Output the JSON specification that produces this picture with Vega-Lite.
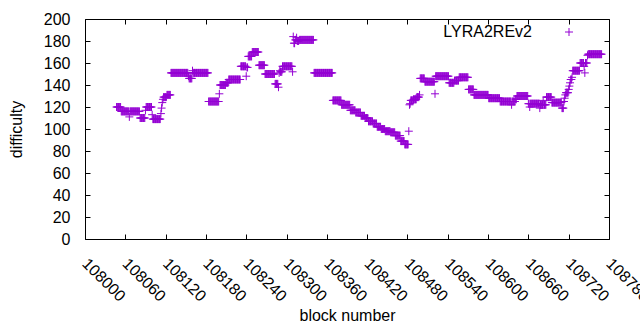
{
"$schema":"https://vega.github.io/schema/vega-lite/v6.json",
"width":524,"height":220,
"autosize":{"type":"none"},
"padding":{"left":85,"top":19,"right":31,"bottom":91},
"background":"white",
"config":{"font":"Liberation Sans","view":{"stroke":"#000","strokeWidth":1},
"axis":{"grid":false,"domain":false,"labelFont":"Liberation Sans","labelFontSize":16,"labelColor":"#000","titleFont":"Liberation Sans","titleFontSize":16,"titleFontWeight":"normal","titleColor":"#000","tickColor":"#000","tickSize":-5,"tickWidth":1}},
"data":{"values":[
{"b":108047,"d":120},{"b":108048,"d":120},{"b":108049,"d":120},{"b":108050,"d":120},{"b":108051,"d":120},{"b":108052,"d":120},{"b":108053,"d":120},
{"b":108054,"d":116},{"b":108055,"d":116},{"b":108056,"d":116},{"b":108057,"d":116},{"b":108058,"d":116},{"b":108059,"d":116},{"b":108060,"d":116},{"b":108061,"d":116},{"b":108062,"d":116},{"b":108063,"d":116},{"b":108064,"d":116},{"b":108065,"d":116},
{"b":108066,"d":111},
{"b":108067,"d":116},{"b":108068,"d":116},{"b":108069,"d":116},{"b":108070,"d":116},{"b":108071,"d":116},{"b":108072,"d":116},{"b":108073,"d":116},{"b":108074,"d":116},{"b":108075,"d":116},{"b":108076,"d":116},{"b":108077,"d":116},{"b":108078,"d":116},{"b":108079,"d":116},{"b":108080,"d":116},{"b":108081,"d":116},
{"b":108082,"d":110},{"b":108083,"d":110},{"b":108084,"d":110},{"b":108085,"d":110},{"b":108086,"d":110},{"b":108087,"d":110},{"b":108088,"d":110},{"b":108089,"d":110},
{"b":108090,"d":117},
{"b":108091,"d":120},{"b":108092,"d":120},{"b":108093,"d":120},{"b":108094,"d":120},{"b":108095,"d":120},{"b":108096,"d":120},{"b":108097,"d":120},{"b":108098,"d":120},{"b":108099,"d":120},
{"b":108100,"d":113},
{"b":108101,"d":109},{"b":108102,"d":109},{"b":108103,"d":109},{"b":108104,"d":109},{"b":108105,"d":109},{"b":108106,"d":109},{"b":108107,"d":109},{"b":108108,"d":109},{"b":108109,"d":109},{"b":108110,"d":109},{"b":108111,"d":109},{"b":108112,"d":109},
{"b":108113,"d":114},{"b":108114,"d":119},{"b":108115,"d":124},{"b":108116,"d":127},
{"b":108117,"d":129},{"b":108118,"d":129},{"b":108119,"d":129},{"b":108120,"d":129},{"b":108121,"d":129},
{"b":108122,"d":131},{"b":108123,"d":131},{"b":108124,"d":131},{"b":108125,"d":131},{"b":108126,"d":131},{"b":108127,"d":131},
{"b":108128,"d":151},{"b":108129,"d":151},{"b":108130,"d":151},{"b":108131,"d":151},{"b":108132,"d":151},{"b":108133,"d":151},{"b":108134,"d":151},{"b":108135,"d":151},{"b":108136,"d":151},{"b":108137,"d":151},{"b":108138,"d":151},{"b":108139,"d":151},{"b":108140,"d":151},{"b":108141,"d":151},{"b":108142,"d":151},{"b":108143,"d":151},{"b":108144,"d":151},{"b":108145,"d":151},{"b":108146,"d":151},{"b":108147,"d":151},{"b":108148,"d":151},{"b":108149,"d":151},{"b":108150,"d":151},{"b":108151,"d":151},{"b":108152,"d":151},{"b":108153,"d":151},
{"b":108154,"d":148},
{"b":108155,"d":146},{"b":108156,"d":146},{"b":108157,"d":146},{"b":108158,"d":146},{"b":108159,"d":146},
{"b":108160,"d":153},
{"b":108161,"d":151},{"b":108162,"d":151},{"b":108163,"d":151},{"b":108164,"d":151},{"b":108165,"d":151},{"b":108166,"d":151},{"b":108167,"d":151},{"b":108168,"d":151},{"b":108169,"d":151},{"b":108170,"d":151},{"b":108171,"d":151},{"b":108172,"d":151},{"b":108173,"d":151},{"b":108174,"d":151},{"b":108175,"d":151},{"b":108176,"d":151},{"b":108177,"d":151},{"b":108178,"d":151},{"b":108179,"d":151},{"b":108180,"d":151},{"b":108181,"d":151},{"b":108182,"d":151},{"b":108183,"d":151},
{"b":108184,"d":125},{"b":108185,"d":125},{"b":108186,"d":125},{"b":108187,"d":125},{"b":108188,"d":125},{"b":108189,"d":125},{"b":108190,"d":125},{"b":108191,"d":125},{"b":108192,"d":125},{"b":108193,"d":125},{"b":108194,"d":125},{"b":108195,"d":125},{"b":108196,"d":125},{"b":108197,"d":125},{"b":108198,"d":125},{"b":108199,"d":125},
{"b":108200,"d":132},
{"b":108201,"d":140},{"b":108202,"d":140},{"b":108203,"d":140},{"b":108204,"d":140},{"b":108205,"d":140},{"b":108206,"d":140},{"b":108207,"d":140},{"b":108208,"d":140},{"b":108209,"d":140},
{"b":108210,"d":142},{"b":108211,"d":142},{"b":108212,"d":142},{"b":108213,"d":142},
{"b":108214,"d":145},{"b":108215,"d":145},{"b":108216,"d":145},{"b":108217,"d":145},{"b":108218,"d":145},{"b":108219,"d":145},{"b":108220,"d":145},{"b":108221,"d":145},{"b":108222,"d":145},{"b":108223,"d":145},{"b":108224,"d":145},{"b":108225,"d":145},{"b":108226,"d":145},{"b":108227,"d":145},{"b":108228,"d":145},{"b":108229,"d":145},{"b":108230,"d":145},{"b":108231,"d":145},
{"b":108232,"d":157},{"b":108233,"d":157},{"b":108234,"d":157},{"b":108235,"d":157},{"b":108236,"d":157},{"b":108237,"d":157},{"b":108238,"d":157},{"b":108239,"d":157},
{"b":108240,"d":148},
{"b":108241,"d":156},{"b":108242,"d":156},
{"b":108243,"d":166},{"b":108244,"d":166},{"b":108245,"d":166},{"b":108246,"d":166},{"b":108247,"d":166},{"b":108248,"d":166},
{"b":108249,"d":170},{"b":108250,"d":170},{"b":108251,"d":170},{"b":108252,"d":170},{"b":108253,"d":170},{"b":108254,"d":170},{"b":108255,"d":170},{"b":108256,"d":170},{"b":108257,"d":170},{"b":108258,"d":170},
{"b":108259,"d":158},{"b":108260,"d":158},{"b":108261,"d":158},{"b":108262,"d":158},{"b":108263,"d":158},{"b":108264,"d":158},{"b":108265,"d":158},{"b":108266,"d":158},{"b":108267,"d":158},
{"b":108268,"d":150},{"b":108269,"d":150},{"b":108270,"d":150},{"b":108271,"d":150},{"b":108272,"d":150},{"b":108273,"d":150},{"b":108274,"d":150},{"b":108275,"d":150},{"b":108276,"d":150},{"b":108277,"d":150},{"b":108278,"d":150},{"b":108279,"d":150},{"b":108280,"d":150},{"b":108281,"d":150},{"b":108282,"d":150},
{"b":108283,"d":141},{"b":108284,"d":141},{"b":108285,"d":141},{"b":108286,"d":141},{"b":108287,"d":141},
{"b":108288,"d":138},{"b":108289,"d":151},{"b":108290,"d":153},
{"b":108291,"d":152},{"b":108292,"d":152},{"b":108293,"d":152},
{"b":108294,"d":157},{"b":108295,"d":157},{"b":108296,"d":157},{"b":108297,"d":157},{"b":108298,"d":157},{"b":108299,"d":157},{"b":108300,"d":157},{"b":108301,"d":157},{"b":108302,"d":157},{"b":108303,"d":157},{"b":108304,"d":157},{"b":108305,"d":157},{"b":108306,"d":157},{"b":108307,"d":157},{"b":108308,"d":157},
{"b":108309,"d":152},{"b":108310,"d":184},{"b":108311,"d":178},{"b":108312,"d":178},{"b":108313,"d":181},{"b":108314,"d":181},{"b":108315,"d":183},{"b":108316,"d":180},{"b":108317,"d":180},{"b":108318,"d":180},
{"b":108319,"d":181},{"b":108320,"d":181},{"b":108321,"d":181},{"b":108322,"d":181},{"b":108323,"d":181},{"b":108324,"d":181},{"b":108325,"d":181},{"b":108326,"d":181},{"b":108327,"d":181},{"b":108328,"d":181},{"b":108329,"d":181},{"b":108330,"d":181},{"b":108331,"d":181},{"b":108332,"d":181},{"b":108333,"d":181},{"b":108334,"d":181},{"b":108335,"d":181},{"b":108336,"d":181},{"b":108337,"d":181},{"b":108338,"d":181},{"b":108339,"d":181},{"b":108340,"d":181},
{"b":108341,"d":151},{"b":108342,"d":151},{"b":108343,"d":151},{"b":108344,"d":151},{"b":108345,"d":151},{"b":108346,"d":151},{"b":108347,"d":151},{"b":108348,"d":151},{"b":108349,"d":151},{"b":108350,"d":151},{"b":108351,"d":151},{"b":108352,"d":151},{"b":108353,"d":151},{"b":108354,"d":151},{"b":108355,"d":151},{"b":108356,"d":151},{"b":108357,"d":151},{"b":108358,"d":151},{"b":108359,"d":151},{"b":108360,"d":151},{"b":108361,"d":151},{"b":108362,"d":151},{"b":108363,"d":151},{"b":108364,"d":151},{"b":108365,"d":151},{"b":108366,"d":151},{"b":108367,"d":151},{"b":108368,"d":151},
{"b":108369,"d":126},{"b":108370,"d":126},{"b":108371,"d":126},{"b":108372,"d":126},{"b":108373,"d":126},{"b":108374,"d":126},{"b":108375,"d":126},{"b":108376,"d":126},{"b":108377,"d":126},{"b":108378,"d":126},{"b":108379,"d":126},{"b":108380,"d":126},{"b":108381,"d":126},
{"b":108382,"d":122},{"b":108383,"d":122},{"b":108384,"d":122},{"b":108385,"d":122},{"b":108386,"d":122},{"b":108387,"d":122},{"b":108388,"d":122},{"b":108389,"d":122},{"b":108390,"d":122},{"b":108391,"d":122},{"b":108392,"d":122},{"b":108393,"d":122},{"b":108394,"d":122},
{"b":108395,"d":117},{"b":108396,"d":117},{"b":108397,"d":117},{"b":108398,"d":117},{"b":108399,"d":117},{"b":108400,"d":117},{"b":108401,"d":117},{"b":108402,"d":117},
{"b":108403,"d":115},{"b":108404,"d":115},{"b":108405,"d":115},{"b":108406,"d":115},{"b":108407,"d":115},{"b":108408,"d":115},{"b":108409,"d":115},{"b":108410,"d":115},
{"b":108411,"d":112},{"b":108412,"d":112},{"b":108413,"d":112},{"b":108414,"d":112},{"b":108415,"d":112},{"b":108416,"d":112},
{"b":108417,"d":110},{"b":108418,"d":110},{"b":108419,"d":110},{"b":108420,"d":110},{"b":108421,"d":110},
{"b":108422,"d":107},{"b":108423,"d":107},{"b":108424,"d":107},{"b":108425,"d":107},{"b":108426,"d":107},{"b":108427,"d":107},{"b":108428,"d":107},
{"b":108429,"d":105},{"b":108430,"d":105},{"b":108431,"d":105},{"b":108432,"d":105},{"b":108433,"d":105},{"b":108434,"d":105},
{"b":108435,"d":102},{"b":108436,"d":102},{"b":108437,"d":102},{"b":108438,"d":102},{"b":108439,"d":102},{"b":108440,"d":102},
{"b":108441,"d":100},{"b":108442,"d":100},{"b":108443,"d":100},{"b":108444,"d":100},{"b":108445,"d":100},{"b":108446,"d":100},
{"b":108447,"d":98},{"b":108448,"d":98},{"b":108449,"d":98},{"b":108450,"d":98},{"b":108451,"d":98},{"b":108452,"d":98},{"b":108453,"d":98},{"b":108454,"d":98},
{"b":108455,"d":97},{"b":108456,"d":97},{"b":108457,"d":97},{"b":108458,"d":97},{"b":108459,"d":97},{"b":108460,"d":97},{"b":108461,"d":97},
{"b":108462,"d":94},{"b":108463,"d":94},{"b":108464,"d":94},{"b":108465,"d":94},{"b":108466,"d":94},{"b":108467,"d":94},{"b":108468,"d":94},{"b":108469,"d":94},
{"b":108470,"d":89},{"b":108471,"d":89},{"b":108472,"d":89},{"b":108473,"d":89},{"b":108474,"d":89},{"b":108475,"d":89},
{"b":108476,"d":86},{"b":108477,"d":86},{"b":108478,"d":86},{"b":108479,"d":86},{"b":108480,"d":86},{"b":108481,"d":86},
{"b":108482,"d":98},{"b":108483,"d":122},{"b":108484,"d":123},
{"b":108485,"d":126},{"b":108486,"d":126},{"b":108487,"d":126},{"b":108488,"d":126},
{"b":108489,"d":127},{"b":108490,"d":127},{"b":108491,"d":127},{"b":108492,"d":127},{"b":108493,"d":127},
{"b":108494,"d":129},{"b":108495,"d":129},{"b":108496,"d":129},{"b":108497,"d":129},
{"b":108498,"d":131},
{"b":108499,"d":146},{"b":108500,"d":146},{"b":108501,"d":146},{"b":108502,"d":146},{"b":108503,"d":146},{"b":108504,"d":146},{"b":108505,"d":146},
{"b":108506,"d":143},{"b":108507,"d":143},{"b":108508,"d":143},{"b":108509,"d":143},{"b":108510,"d":143},{"b":108511,"d":143},{"b":108512,"d":143},{"b":108513,"d":143},{"b":108514,"d":143},{"b":108515,"d":143},{"b":108516,"d":143},{"b":108517,"d":143},{"b":108518,"d":143},{"b":108519,"d":143},{"b":108520,"d":143},
{"b":108521,"d":132},
{"b":108522,"d":148},{"b":108523,"d":148},{"b":108524,"d":148},{"b":108525,"d":148},{"b":108526,"d":148},{"b":108527,"d":148},{"b":108528,"d":148},{"b":108529,"d":148},{"b":108530,"d":148},{"b":108531,"d":148},{"b":108532,"d":148},{"b":108533,"d":148},{"b":108534,"d":148},{"b":108535,"d":148},{"b":108536,"d":148},{"b":108537,"d":148},{"b":108538,"d":148},{"b":108539,"d":148},{"b":108540,"d":148},{"b":108541,"d":148},
{"b":108542,"d":142},{"b":108543,"d":142},{"b":108544,"d":142},{"b":108545,"d":142},{"b":108546,"d":142},{"b":108547,"d":142},{"b":108548,"d":142},{"b":108549,"d":142},
{"b":108550,"d":144},{"b":108551,"d":144},{"b":108552,"d":144},{"b":108553,"d":144},{"b":108554,"d":144},{"b":108555,"d":144},{"b":108556,"d":144},
{"b":108557,"d":147},{"b":108558,"d":147},{"b":108559,"d":147},{"b":108560,"d":147},{"b":108561,"d":147},{"b":108562,"d":147},{"b":108563,"d":147},{"b":108564,"d":147},{"b":108565,"d":147},{"b":108566,"d":147},{"b":108567,"d":147},{"b":108568,"d":147},{"b":108569,"d":147},{"b":108570,"d":147},
{"b":108571,"d":136},{"b":108572,"d":136},{"b":108573,"d":136},{"b":108574,"d":136},{"b":108575,"d":136},{"b":108576,"d":136},{"b":108577,"d":136},{"b":108578,"d":136},
{"b":108579,"d":131},{"b":108580,"d":131},{"b":108581,"d":131},{"b":108582,"d":131},{"b":108583,"d":131},{"b":108584,"d":131},{"b":108585,"d":131},{"b":108586,"d":131},{"b":108587,"d":131},{"b":108588,"d":131},{"b":108589,"d":131},{"b":108590,"d":131},{"b":108591,"d":131},{"b":108592,"d":131},{"b":108593,"d":131},{"b":108594,"d":131},{"b":108595,"d":131},{"b":108596,"d":131},{"b":108597,"d":131},{"b":108598,"d":131},{"b":108599,"d":131},{"b":108600,"d":131},
{"b":108601,"d":128},{"b":108602,"d":128},{"b":108603,"d":128},{"b":108604,"d":128},{"b":108605,"d":128},{"b":108606,"d":128},{"b":108607,"d":128},{"b":108608,"d":128},{"b":108609,"d":128},{"b":108610,"d":128},{"b":108611,"d":128},{"b":108612,"d":128},{"b":108613,"d":128},{"b":108614,"d":128},{"b":108615,"d":128},{"b":108616,"d":128},{"b":108617,"d":128},
{"b":108618,"d":125},{"b":108619,"d":125},{"b":108620,"d":125},{"b":108621,"d":125},{"b":108622,"d":125},{"b":108623,"d":125},{"b":108624,"d":125},{"b":108625,"d":125},{"b":108626,"d":125},{"b":108627,"d":125},{"b":108628,"d":125},{"b":108629,"d":125},{"b":108630,"d":125},{"b":108631,"d":125},{"b":108632,"d":125},{"b":108633,"d":125},{"b":108634,"d":125},
{"b":108635,"d":122},
{"b":108636,"d":125},{"b":108637,"d":125},{"b":108638,"d":125},{"b":108639,"d":125},{"b":108640,"d":125},
{"b":108641,"d":127},{"b":108642,"d":127},
{"b":108643,"d":130},{"b":108644,"d":130},{"b":108645,"d":130},{"b":108646,"d":130},{"b":108647,"d":130},{"b":108648,"d":130},{"b":108649,"d":130},{"b":108650,"d":130},{"b":108651,"d":130},{"b":108652,"d":130},{"b":108653,"d":130},{"b":108654,"d":130},{"b":108655,"d":130},{"b":108656,"d":130},{"b":108657,"d":130},{"b":108658,"d":130},{"b":108659,"d":130},
{"b":108660,"d":123},{"b":108661,"d":123},{"b":108662,"d":120},
{"b":108663,"d":123},{"b":108664,"d":123},{"b":108665,"d":123},{"b":108666,"d":123},{"b":108667,"d":123},{"b":108668,"d":123},{"b":108669,"d":123},{"b":108670,"d":123},{"b":108671,"d":123},{"b":108672,"d":123},{"b":108673,"d":123},{"b":108674,"d":123},{"b":108675,"d":123},{"b":108676,"d":123},
{"b":108677,"d":119},
{"b":108678,"d":122},{"b":108679,"d":122},{"b":108680,"d":122},{"b":108681,"d":122},
{"b":108682,"d":126},
{"b":108683,"d":122},{"b":108684,"d":122},{"b":108685,"d":122},{"b":108686,"d":122},
{"b":108687,"d":129},{"b":108688,"d":129},{"b":108689,"d":129},{"b":108690,"d":129},{"b":108691,"d":129},{"b":108692,"d":129},{"b":108693,"d":129},{"b":108694,"d":129},
{"b":108695,"d":124},{"b":108696,"d":124},{"b":108697,"d":124},{"b":108698,"d":124},{"b":108699,"d":124},{"b":108700,"d":124},{"b":108701,"d":124},{"b":108702,"d":124},{"b":108703,"d":124},{"b":108704,"d":124},{"b":108705,"d":124},{"b":108706,"d":124},{"b":108707,"d":124},{"b":108708,"d":124},{"b":108709,"d":124},
{"b":108710,"d":119},{"b":108711,"d":119},{"b":108712,"d":119},
{"b":108713,"d":125},{"b":108714,"d":128},{"b":108715,"d":131},
{"b":108716,"d":133},{"b":108717,"d":133},{"b":108718,"d":133},{"b":108719,"d":133},
{"b":108720,"d":136},{"b":108721,"d":139},{"b":108722,"d":142},{"b":108723,"d":145},{"b":108724,"d":145},{"b":108725,"d":147},
{"b":108726,"d":153},{"b":108727,"d":153},{"b":108728,"d":153},{"b":108729,"d":153},{"b":108730,"d":153},{"b":108731,"d":153},{"b":108732,"d":153},{"b":108733,"d":153},{"b":108734,"d":153},{"b":108735,"d":153},{"b":108736,"d":153},
{"b":108737,"d":160},{"b":108738,"d":160},{"b":108739,"d":160},{"b":108740,"d":160},{"b":108741,"d":160},{"b":108742,"d":160},
{"b":108743,"d":157},{"b":108744,"d":151},
{"b":108745,"d":160},{"b":108746,"d":160},{"b":108747,"d":160},
{"b":108748,"d":167},
{"b":108749,"d":168},{"b":108750,"d":168},{"b":108751,"d":168},{"b":108752,"d":168},{"b":108753,"d":168},{"b":108754,"d":168},{"b":108755,"d":168},{"b":108756,"d":168},{"b":108757,"d":168},{"b":108758,"d":168},{"b":108759,"d":168},{"b":108760,"d":168},{"b":108761,"d":168},{"b":108762,"d":168},{"b":108763,"d":168},{"b":108764,"d":168},{"b":108765,"d":168},{"b":108766,"d":168},{"b":108767,"d":168},{"b":108768,"d":168},{"b":108769,"d":168}
]},
"layer":[
{"mark":{"type":"point","shape":"M-1,0H1M0,-1V1","filled":false,"size":64,"strokeWidth":1,"opacity":1},
"encoding":{
"x":{"field":"b","type":"quantitative","scale":{"domain":[108000,108780],"nice":false,"zero":false},
"axis":{"orient":"bottom","values":[108000,108060,108120,108180,108240,108300,108360,108420,108480,108540,108600,108660,108720,108780],"format":"d","labelAngle":45,"labelAlign":"left","labelBaseline":"top","labelPadding":21,"labelOffset":5,"labelOverlap":false,"labelFlush":false,"title":"block number","titleY":81,"titleBaseline":"alphabetic"}},
"y":{"field":"d","type":"quantitative","scale":{"domain":[0,200],"nice":false,"zero":true},
"axis":{"orient":"left","values":[0,20,40,60,80,100,120,140,160,180,200],"labelPadding":20,"labelOverlap":false,"labelFlush":false,"title":"difficulty","titleX":-64,"titleY":110,"titleAngle":270,"titleAlign":"center","titleBaseline":"alphabetic"}},
"color":{"datum":"LYRA2REv2","type":"nominal","scale":{"range":["#9400d3"]},
"legend":{"title":null,"orient":"none","legendX":476,"legendY":5,"padding":0,"symbolType":"M-1,0H1M0,-1V1","symbolSize":64,"symbolStrokeWidth":1,"labelFont":"Liberation Sans","labelFontSize":16,"labelColor":"#000","labelAlign":"right","labelOffset":-45}}
}},
{"mark":{"type":"point","opacity":0},
"encoding":{
"x":{"field":"b","type":"quantitative","axis":{"orient":"top","values":[108000,108060,108120,108180,108240,108300,108360,108420,108480,108540,108600,108660,108720,108780],"labels":false,"title":null}},
"y":{"field":"d","type":"quantitative","axis":{"orient":"right","values":[0,20,40,60,80,100,120,140,160,180,200],"labels":false,"title":null}}
}}
],
"resolve":{"axis":{"x":"independent","y":"independent"}}
}
